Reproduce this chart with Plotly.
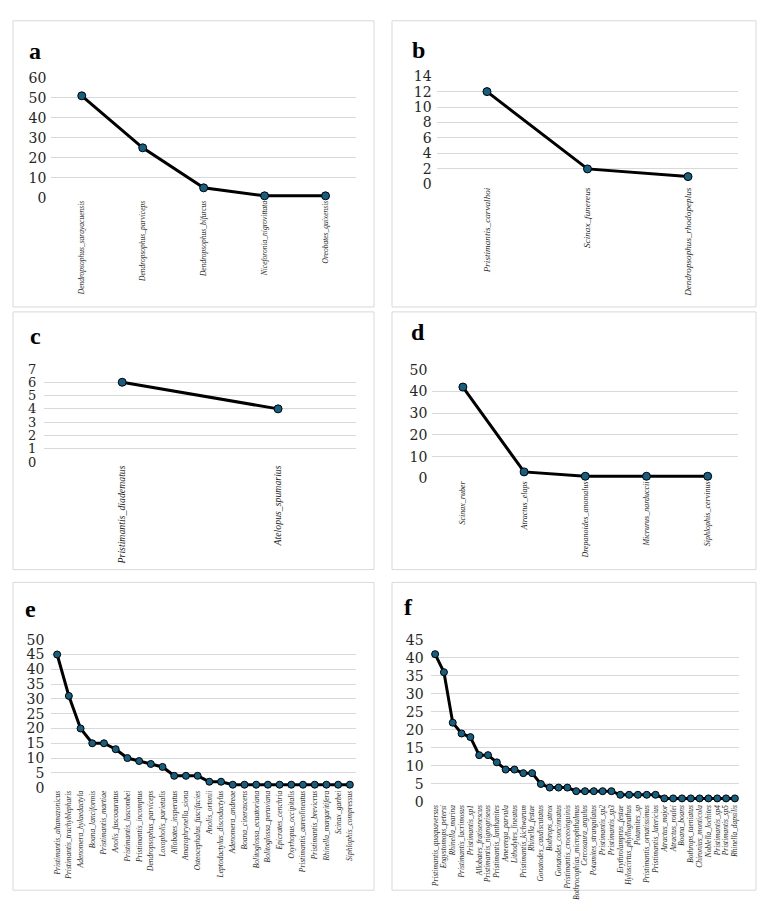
import plotly.graph_objects as go

W, H = 770, 911

# ---------------- data ----------------
a_species = ["Dendropsophus_sarayacuensis", "Dendropsophus_parviceps", "Dendropsophus_bifurcus",
             "Niceforonia_nigrovittata", "Oreobates_quixensis"]
a_counts = [51, 25, 5, 1, 1]

b_species = ["Pristimantis_carvalhoi", "Scinax_funereus", "Dendropsophus_rhodopeplus"]
b_counts = [12, 2, 1]

c_species = ["Pristimantis_diadematus", "Atelopus_spumarius"]
c_counts = [6, 4]

d_species = ["Scinax_ruber", "Atractus_elaps", "Drepanoides_anomalus", "Micrurus_narduccii",
             "Siphlophis_cervinus"]
d_counts = [42, 3, 1, 1, 1]

e_species = ["Pristimantis_altamazonicus", "Pristimantis_trachyblepharis", "Adenomera_hylaedactyla",
             "Boana_lanciformis", "Pristimantis_martiae", "Anolis_fuscoauratus",
             "Pristimantis_luscombei", "Pristimantis_incomptus", "Dendropsophus_parviceps",
             "Loxopholis_parietalis", "Allobates_insperatus", "Amazophrynella_siona",
             "Osteocephalus_fuscifacies", "Anolis_ortonii", "Leptodactylus_discodactylus",
             "Adenomera_andreae", "Boana_cinerascens", "Bolitoglossa_ecuatoriana",
             "Bolitoglossa_peruviana", "Epicrates_cenchria", "Oxyrhopus_occipitalis",
             "Pristimantis_aureolineatus", "Pristimantis_brevicrus", "Rhinella_margaritifera",
             "Scinax_garbei", "Siphlophis_compressus"]
e_counts = [45, 31, 20, 15, 15, 13, 10, 9, 8, 7, 4, 4, 4, 2, 2, 1, 1, 1, 1, 1, 1, 1, 1, 1, 1, 1]

f_species = ["Pristimantis_quaquaversus", "Engystomops_petersi", "Rhinella_marina",
             "Pristimantis_lacrimosus", "Pristimantis_sp1", "Allobates_fratisenescus",
             "Pristimantis_nigrogriseus", "Pristimantis_lanthanites", "Ameerega_parvula",
             "Lithodytes_lineatus", "Pristimantis_kichwarum", "Rhinella_festae",
             "Gonatodes_caudiscutatus", "Bothrops_atrox", "Gonatodes_concinnatus",
             "Pristimantis_croceoinguinis", "Bothrocophias_microphthalmus", "Cercosaura_argulus",
             "Potamites_strangulatus", "Pristimantis_sp2", "Pristimantis_sp3",
             "Erythrolamprus_festae", "Hyloscirtus_phyllognathus", "Potamites_sp",
             "Pristimantis_ornatissimus", "Pristimantis_latericius", "Atractus_major",
             "Atractus_roulei", "Boana_boans", "Bothrops_taeniatus", "Chironius_monticola",
             "Noblella_lochites", "Pristimantis_sp4", "Pristimantis_sp5", "Rhinella_dapsilis"]
f_counts = [41, 36, 22, 19, 18, 13, 13, 11, 9, 9, 8, 8, 5, 4, 4, 4, 3, 3, 3, 3, 3,
            2, 2, 2, 2, 2, 1, 1, 1, 1, 1, 1, 1, 1, 1]

panel_letters = ["a", "b", "c", "d", "e", "f"]
y_tops = [60, 14, 7, 50, 50, 45]
y_dticks = [10, 2, 1, 10, 5, 5]

# ---------------- geometry (pixels) ----------------
geom = [
    dict(box=(13, 13, 374, 304), xl=51.3, xr=356, p0=193, pt=71, title=(27, 28), lab=7.5, ms=8, so=4, yf=14),
    dict(box=(392, 13, 756, 304), xl=436.7, xr=738.3, p0=179.3, pt=69.3, title=(410, 27), lab=9.2, ms=8, so=4, yf=14),
    dict(box=(13, 309, 374, 571), xl=44.3, xr=356, p0=461.7, pt=367, title=(28, 318), lab=9.8, ms=8, so=7, yf=13),
    dict(box=(392, 309, 756, 571), xl=432.3, xr=738.3, p0=478.3, pt=367.7, title=(409, 314), lab=8, ms=8, so=4, yf=14),
    dict(box=(13, 584, 374, 897), xl=51.3, xr=355.7, p0=792.7, pt=642.3, title=(23, 596), lab=7.5, ms=7, so=6, yf=14),
    dict(box=(392, 584, 756, 897), xl=430.7, xr=739.3, p0=807.3, pt=642.3, title=(402, 594), lab=7.4, ms=7, so=6, yf=14),
]

species = [a_species, b_species, c_species, d_species, e_species, f_species]
counts = [a_counts, b_counts, c_counts, d_counts, e_counts, f_counts]

MARKER = "#155f80"
GRID = "#d9d9d9"
SERIF = "Liberation Serif, Times New Roman, serif"
TICKSERIF = "DejaVu Serif, serif"

fig = go.Figure()
shapes = []
annotations = []
layout_axes = {}

for i in range(6):
    g = geom[i]
    n = i + 1
    xname = "x" if n == 1 else f"x{n}"
    yname = "y" if n == 1 else f"y{n}"
    xkey = "xaxis" if n == 1 else f"xaxis{n}"
    ykey = "yaxis" if n == 1 else f"yaxis{n}"
    cats = species[i]
    vals = counts[i]
    top = y_tops[i]

    fig.add_trace(go.Scatter(
        x=cats, y=vals, mode="lines+markers",
        line=dict(color="black", width=3),
        marker=dict(size=g["ms"], color=MARKER, line=dict(color="black", width=1)),
        xaxis=xname, yaxis=yname, showlegend=False, cliponaxis=False,
        hoverinfo="x+y",
    ))

    pad = top * 0.004
    ppu = (g["p0"] - g["pt"]) / top
    pb = g["p0"] + pad * ppu
    ptp = g["pt"] - pad * ppu

    layout_axes[xkey] = dict(
        domain=[g["xl"] / W, g["xr"] / W],
        anchor=yname,
        type="category",
        range=[-0.5, len(cats) - 0.5],
        tickmode="linear", tick0=0, dtick=1,
        tickangle=-90,
        tickfont=dict(family=SERIF, size=g["lab"], color="#262626", style="italic"),
        showgrid=False, showline=False, zeroline=False, ticks="",
        fixedrange=True,
    )
    layout_axes[ykey] = dict(
        domain=[1 - pb / H, 1 - ptp / H],
        anchor=xname,
        range=[-pad, top + pad],
        dtick=y_dticks[i], tick0=0,
        showgrid=True, gridcolor=GRID, gridwidth=1,
        zeroline=False, showline=False, ticks="",
        tickfont=dict(family=TICKSERIF, size=g["yf"], color="#262626"),
        ticklabelstandoff=g["so"],
        fixedrange=True,
    )

    x0, y0, x1, y1 = g["box"]
    shapes.append(dict(type="rect", xref="paper", yref="paper",
                       x0=x0 / W, x1=x1 / W, y0=1 - y1 / H, y1=1 - y0 / H,
                       line=dict(color=GRID, width=1), fillcolor="rgba(0,0,0,0)", layer="below"))
    tx, ty = g["title"]
    annotations.append(dict(text=f"<b>{panel_letters[i]}</b>", xref="paper", yref="paper",
                            x=tx / W, y=1 - ty / H, xanchor="left", yanchor="top",
                            showarrow=False, font=dict(family=SERIF, size=24, color="black")))

fig.update_layout(
    width=W, height=H,
    margin=dict(l=0, r=0, t=0, b=0),
    paper_bgcolor="white", plot_bgcolor="white",
    shapes=shapes, annotations=annotations,
    **layout_axes,
)

fig.write_html("out.html")
